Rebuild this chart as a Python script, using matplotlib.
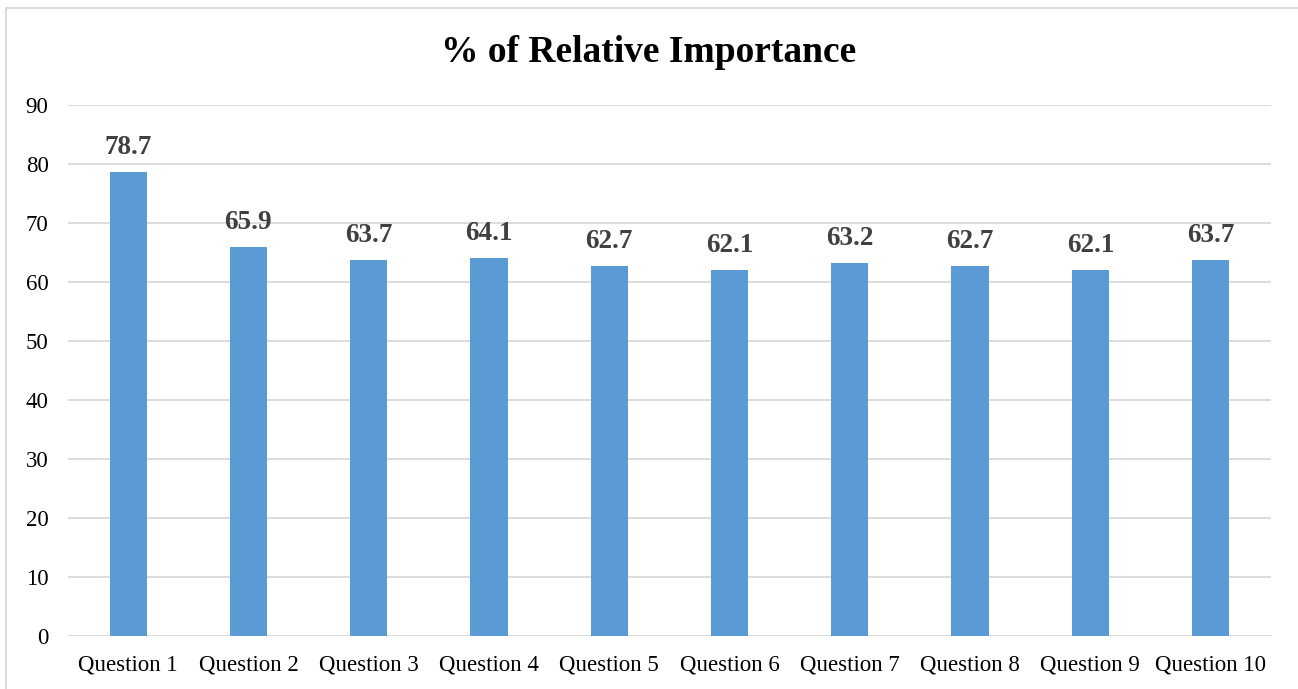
import matplotlib
matplotlib.use("Agg")
import matplotlib.pyplot as plt
from matplotlib.patches import Rectangle

categories = ["Question 1", "Question 2", "Question 3", "Question 4", "Question 5",
              "Question 6", "Question 7", "Question 8", "Question 9", "Question 10"]
values = [78.7, 65.9, 63.7, 64.1, 62.7, 62.1, 63.2, 62.7, 62.1, 63.7]
yticks = [0, 10, 20, 30, 40, 50, 60, 70, 80, 90]

plt.rcParams['font.family'] = ['Liberation Serif', 'DejaVu Serif']

fig = plt.figure(figsize=(12.98, 6.89), dpi=100)
ax = fig.add_axes([0.0524, 0.0769, 0.9266, 0.7707])

x = range(len(categories))
ax.bar(x, values, width=0.31, color="#5B9BD5", zorder=3)

ax.set_xlim(-0.5, len(categories) - 0.5)
ax.set_ylim(0, 90)
ax.set_yticks(yticks)
ax.set_xticks(list(x))
ax.set_xticklabels(categories)
ax.tick_params(axis='both', length=0, labelsize=16.5, colors="black")
ax.tick_params(axis='y', pad=14)
ax.tick_params(axis='x', pad=13)
ax.grid(axis='y', color="#D9D9D9", linewidth=1.3, zorder=0)
for s in ax.spines.values():
    s.set_visible(False)

for xi, v in zip(x, values):
    ax.text(xi, v + 3.0, f"{v:.1f}", ha="center", va="baseline",
            fontsize=19.5, fontweight="bold", color="#404040")

fig.text(0.5, 0.924, "% of Relative Importance", ha="center", va="center",
         fontsize=27, fontweight="bold", color="black")

fig.patches.append(Rectangle((6 / 1298, -0.05), 1.2, 1 - 8 / 689 + 0.05,
                             transform=fig.transFigure, fill=False,
                             edgecolor="#D9D9D9", linewidth=1.3))

fig.savefig("out.png", dpi=100)
